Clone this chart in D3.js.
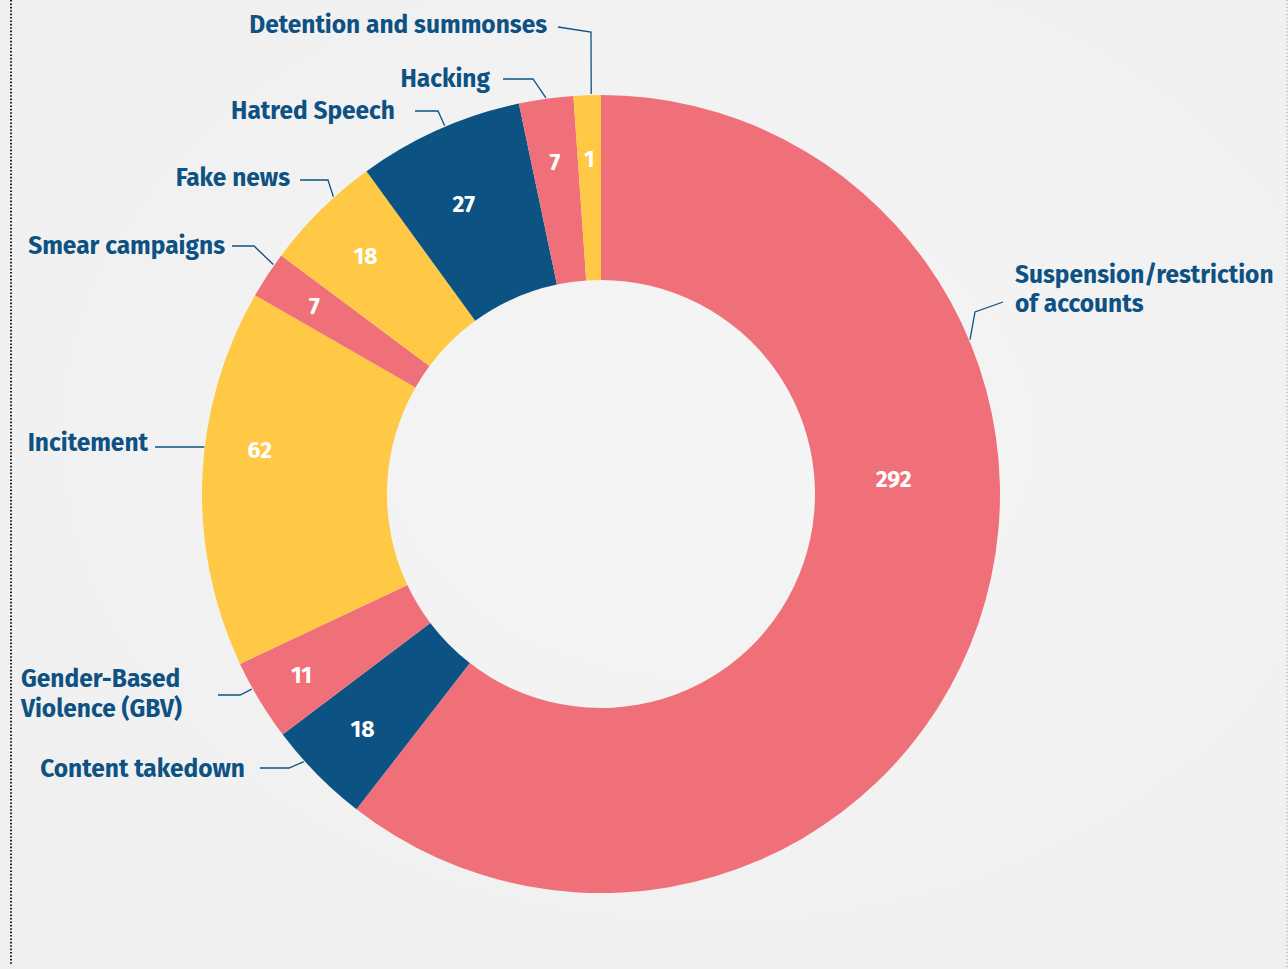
<!DOCTYPE html>
<html>
<head>
<meta charset="utf-8">
<script src="https://cdn.jsdelivr.net/npm/d3@7"></script>
<style>
  html, body { margin: 0; padding: 0; background: #f2f2f2; }
  svg { display: block; }
</style>
</head>
<body>
<svg id="chart" width="1288" height="969"></svg>
<script>
// ---------- data (clockwise from 12 o'clock) ----------
const categories = [
  "Suspension/restriction of accounts",
  "Content takedown",
  "Gender-Based Violence (GBV)",
  "Incitement",
  "Smear campaigns",
  "Fake news",
  "Hatred Speech",
  "Hacking",
  "Detention and summonses"
];
const counts = [292, 18, 11, 62, 7, 18, 27, 7, 1];
// share of the ring each slice occupies in the drawing (%)
const drawnShare = [60.5, 4.2, 3.3, 15.3, 1.9, 4.8, 6.7, 2.2, 1.1];
const colorKeys = ["pink", "blue", "pink", "yellow", "pink", "yellow", "blue", "pink", "yellow"];

// ---------- layout / style ----------
const palette = { pink: "#F07079", blue: "#0C5283", yellow: "#FFC845" };
const textBlue = "#0E5183";
const cx = 601, cy = 494, rOuter = 399, rInner = 214;
const valueLabelR = 335;

// label layout: text lines, anchor, position; leader elbow + end near text
// optional overrides: leaderAngle (deg), valAngle (deg), valR
const annot = [
  { lines: ["Suspension/restriction", "of accounts"], anchor: "start", x: 1015, y: 283, lh: 29, leaderAngle: 67.3, elbow: [975, 312], end: [1003, 302], valAngle: 87, valR: 293 },
  { lines: ["Content takedown"], anchor: "end", x: 245, y: 777, lh: 29, leaderAngle: 228, elbow: [289, 768], end: [260, 768] },
  { lines: ["Gender-Based", "Violence (GBV)"], anchor: "start", x: 21, y: 687, lh: 30, leaderAngle: 240.8, elbow: [240, 695], end: [218, 695], valR: 350 },
  { lines: ["Incitement"], anchor: "end", x: 148, y: 451, lh: 29, elbow: null, end: [155, 447], valAngle: 277.4, valR: 344 },
  { lines: ["Smear campaigns"], anchor: "end", x: 225, y: 254, lh: 29, leaderAngle: 305, elbow: [254, 246], end: [232, 246], valR: 343 },
  { lines: ["Fake news"], anchor: "end", x: 290, y: 186, lh: 29, leaderAngle: 318, elbow: [328, 180], end: [300, 180] },
  { lines: ["Hatred Speech"], anchor: "end", x: 395, y: 119, lh: 29, leaderAngle: 337, elbow: [438, 111], end: [415, 111], valAngle: 334.7, valR: 321 },
  { lines: ["Hacking"], anchor: "end", x: 490, y: 87, lh: 29, elbow: [533, 79], end: [503, 79] },
  { lines: ["Detention and summonses"], anchor: "end", x: 547, y: 33, lh: 29, leaderAngle: 358.6, elbow: [591, 32], end: [558, 27] }
];

const rows = categories.map((c, i) => ({ name: c, count: counts[i], share: drawnShare[i], color: palette[colorKeys[i]], ann: annot[i] }));

const svg = d3.select("#chart");

// paper background with subtle shading
const defs = svg.append("defs");
const grad = defs.append("radialGradient").attr("id", "paper").attr("cx", "55%").attr("cy", "45%").attr("r", "75%");
grad.append("stop").attr("offset", "0%").attr("stop-color", "#f5f5f5");
grad.append("stop").attr("offset", "100%").attr("stop-color", "#efefef");
svg.append("rect").attr("width", 1288).attr("height", 969).attr("fill", "url(#paper)");

// dotted frame edges
svg.append("line").attr("x1", 11).attr("x2", 11).attr("y1", 0).attr("y2", 965)
  .attr("stroke", "#222").attr("stroke-width", 2).attr("stroke-dasharray", "1.6,1.8");
svg.append("line").attr("x1", 1287).attr("x2", 1287).attr("y1", 0).attr("y2", 969)
  .attr("stroke", "#999").attr("stroke-width", 1).attr("stroke-dasharray", "1,2.5");

const pie = d3.pie().sort(null).value(d => d.share);
const arcs = pie(rows);
const arc = d3.arc().innerRadius(rInner).outerRadius(rOuter);
const deg = Math.PI / 180;

const g = svg.append("g").attr("transform", `translate(${cx},${cy})`);

g.selectAll("path.slice").data(arcs).join("path")
  .attr("class", "slice")
  .attr("d", arc)
  .attr("fill", d => d.data.color);

// value labels
const polar = (r, a) => [r * Math.sin(a), -r * Math.cos(a)];
g.selectAll("text.val").data(arcs).join("text")
  .attr("class", "val")
  .attr("transform", d => {
    const a = d.data.ann;
    const mid = (d.startAngle + d.endAngle) / 2;
    const ang = a.valAngle != null ? a.valAngle * deg : mid;
    const r = a.valR != null ? a.valR : valueLabelR;
    const p = polar(r, ang);
    return `translate(${p[0]},${p[1]})`;
  })
  .attr("text-anchor", "middle")
  .attr("dominant-baseline", "central")
  .attr("fill", "#ffffff")
  .attr("font-family", "'Fira Sans', 'Noto Sans', sans-serif")
  .attr("font-weight", 700)
  .attr("font-size", 23)
  .text(d => d.data.count);

// leader lines
const lineGen = d3.line();
arcs.forEach(d => {
  const a = d.data.ann;
  const mid = (d.startAngle + d.endAngle) / 2;
  const ang = a.leaderAngle != null ? a.leaderAngle * deg : mid;
  const p = polar(rOuter + 1, ang);
  const anchorPt = [cx + p[0], cy + p[1]];
  let pts;
  if (a.elbow) pts = [anchorPt, a.elbow, a.end];
  else pts = [[cx + p[0] + 3, a.end[1]], a.end];
  svg.append("path").attr("d", lineGen(pts))
    .attr("fill", "none").attr("stroke", textBlue).attr("stroke-width", 1.3);
});

// category labels
const lab = svg.selectAll("text.cat").data(rows).join("text")
  .attr("class", "cat")
  .attr("text-anchor", d => d.ann.anchor)
  .attr("fill", textBlue)
  .attr("font-family", "'Fira Sans', 'Noto Sans', sans-serif")
  .attr("font-weight", 700)
  .attr("font-size", 24.5);
lab.each(function (d) {
  const t = d3.select(this);
  d.ann.lines.forEach((ln, i) => {
    t.append("tspan").attr("x", d.ann.x).attr("y", d.ann.y + i * d.ann.lh).text(ln);
  });
});
</script>
</body>
</html>
